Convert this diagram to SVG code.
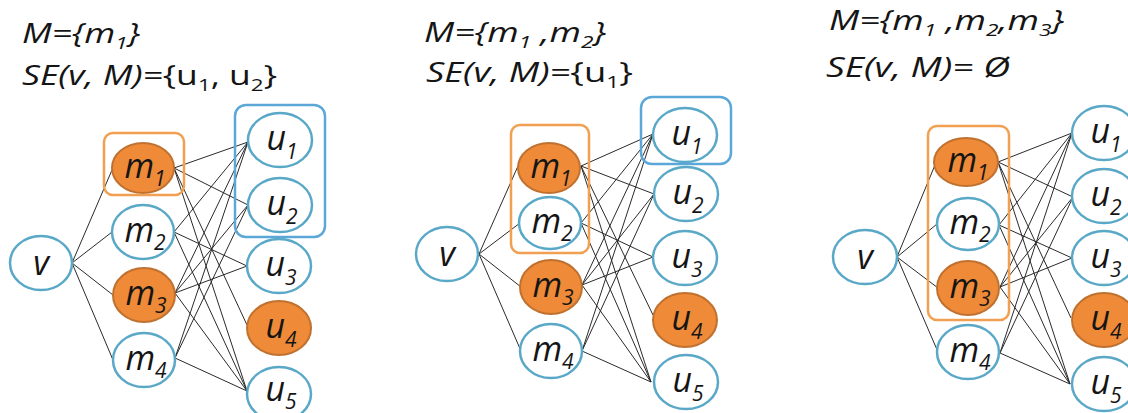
<svg xmlns="http://www.w3.org/2000/svg" width="1128" height="413" viewBox="0 0 1128 413">
<style>
.bg{fill:#ffffff}
.n{fill:#ffffff;stroke:#5aa8c8;stroke-width:2.5}
.o{fill:#ee8a38;stroke:#c0712f;stroke-width:2}
.ob{fill:none;stroke:#f0a050;stroke-width:2.5}
.bb{fill:none;stroke:#5ba7d8;stroke-width:2.5}
.e{stroke:#2a2a2a;stroke-width:1;fill:none}
.h{font-family:"Open Sans","Liberation Sans",sans-serif;font-size:27px;fill:#151515;font-style:italic}
.up{font-style:normal}
.l{font-family:"Open Sans","Liberation Sans",sans-serif;font-size:34px;font-style:italic;fill:#151515;text-anchor:middle}
.s{font-size:21px}
</style>
<rect class="bg" x="0" y="0" width="1128" height="413"/>

<!-- headers -->
<g id="header1">
<text class="h" x="22" y="43" textLength="118" lengthAdjust="spacingAndGlyphs">M={m<tspan font-size="17" dy="6">1</tspan><tspan dy="-6">}</tspan></text>
<text class="h" x="22" y="85" textLength="255" lengthAdjust="spacingAndGlyphs">SE(v, M)=<tspan class="up">{u<tspan font-size="17" dy="6">1</tspan><tspan dy="-6">, u</tspan><tspan font-size="17" dy="6">2</tspan><tspan dy="-6">}</tspan></tspan></text>
</g>
<g id="header2">
<text class="h" x="424" y="42" textLength="182" lengthAdjust="spacingAndGlyphs">M={m<tspan font-size="17" dy="6">1</tspan><tspan dy="-6"> ,m</tspan><tspan font-size="17" dy="6">2</tspan><tspan dy="-6">}</tspan></text>
<text class="h" x="426" y="82" textLength="207" lengthAdjust="spacingAndGlyphs">SE(v, M)=<tspan class="up">{u<tspan font-size="17" dy="6">1</tspan><tspan dy="-6">}</tspan></tspan></text>
</g>
<g id="header3">
<text class="h" x="829" y="30" textLength="235" lengthAdjust="spacingAndGlyphs">M={m<tspan font-size="17" dy="6">1</tspan><tspan dy="-6"> ,m</tspan><tspan font-size="17" dy="6">2</tspan><tspan dy="-6">,m</tspan><tspan font-size="17" dy="6">3</tspan><tspan dy="-6">}</tspan></text>
<text class="h" x="826" y="77" textLength="184" lengthAdjust="spacingAndGlyphs">SE(v, M)= Ø</text>
</g>

<!-- connectors -->
<g id="connectors">
<!-- panel 1 -->
<path class="e" d="M72,263L112,170M72,263L112,232M72,263L113,295M72,263L113,360"/>
<path class="e" d="M174,168L248,142M174,168L248,205M174,168L247,325M174,168L247,391"/>
<path class="e" d="M174,232L248,142M174,232L247,266M174,232L247,391"/>
<path class="e" d="M175,293L248,142M175,293L248,205M175,293L247,266M175,293L247,391"/>
<path class="e" d="M175,358L248,142M175,358L248,205M175,358L247,391"/>
<!-- panel 2 -->
<path class="e" d="M479,254L518,166M479,254L520,223M479,254L521,287M479,254L521,351"/>
<path class="e" d="M581,166L653,134M581,166L654,194M581,166L653,315M581,166L651,382"/>
<path class="e" d="M581,223L653,134M581,223L653,257M581,223L651,382"/>
<path class="e" d="M582,285L653,134M582,285L654,194M582,285L653,257M582,285L651,382"/>
<path class="e" d="M582,351L653,134M582,351L654,194M582,351L651,382"/>
<!-- panel 3 -->
<path class="e" d="M897,257L935,165M897,257L937,224M897,257L938,288M897,257L938,352"/>
<path class="e" d="M998,162L1072,133M998,162L1073,197M998,162L1071,318M998,162L1070,384"/>
<path class="e" d="M999,225L1072,133M999,225L1072,258M999,225L1070,384"/>
<path class="e" d="M1000,287L1072,133M1000,287L1073,197M1000,287L1072,258M1000,287L1070,384"/>
<path class="e" d="M1000,353L1072,133M1000,353L1073,197M1000,353L1070,384"/>
</g>

<!-- panel 1 nodes -->
<g id="p1-v"><ellipse class="n" cx="41" cy="263" rx="31" ry="27"/><text class="l" x="41" y="275">v</text></g>
<g id="p1-m1"><ellipse class="o" cx="143" cy="168" rx="31" ry="25"/><text class="l" x="145" y="178">m<tspan class="s" dy="8">1</tspan></text></g>
<g id="p1-m2"><ellipse class="n" cx="143" cy="232" rx="31" ry="27"/><text class="l" x="145" y="242">m<tspan class="s" dy="8">2</tspan></text></g>
<g id="p1-m3"><ellipse class="o" cx="144" cy="295" rx="31" ry="27"/><text class="l" x="146" y="305">m<tspan class="s" dy="8">3</tspan></text></g>
<g id="p1-m4"><ellipse class="n" cx="144" cy="360" rx="31" ry="27"/><text class="l" x="146" y="370">m<tspan class="s" dy="8">4</tspan></text></g>
<g id="p1-u1"><ellipse class="n" cx="280" cy="140" rx="32" ry="27"/><text class="l" x="282" y="150">u<tspan class="s" dy="9">1</tspan></text></g>
<g id="p1-u2"><ellipse class="n" cx="280" cy="205" rx="32" ry="27"/><text class="l" x="282" y="215">u<tspan class="s" dy="9">2</tspan></text></g>
<g id="p1-u3"><ellipse class="n" cx="279" cy="266" rx="32" ry="27"/><text class="l" x="281" y="276">u<tspan class="s" dy="9">3</tspan></text></g>
<g id="p1-u4"><ellipse class="o" cx="279" cy="328" rx="32" ry="27"/><text class="l" x="281" y="338">u<tspan class="s" dy="9">4</tspan></text></g>
<g id="p1-u5"><ellipse class="n" cx="279" cy="394" rx="32" ry="27"/><text class="l" x="281" y="401">u<tspan class="s" dy="8">5</tspan></text></g>
<g id="p1-boxes"><rect class="ob" x="104" y="133" width="80" height="62" rx="9"/><rect class="bb" x="235" y="105" width="90" height="132" rx="11"/></g>

<!-- panel 2 nodes -->
<g id="p2-v"><ellipse class="n" cx="447" cy="254" rx="31" ry="27"/><text class="l" x="447" y="266">v</text></g>
<g id="p2-m1"><ellipse class="o" cx="549" cy="168" rx="31" ry="25"/><text class="l" x="551" y="178">m<tspan class="s" dy="8">1</tspan></text></g>
<g id="p2-m2"><ellipse class="n" cx="550" cy="223" rx="31" ry="26"/><text class="l" x="552" y="233">m<tspan class="s" dy="8">2</tspan></text></g>
<g id="p2-m3"><ellipse class="o" cx="551" cy="287" rx="31" ry="27"/><text class="l" x="553" y="297">m<tspan class="s" dy="8">3</tspan></text></g>
<g id="p2-m4"><ellipse class="n" cx="551" cy="351" rx="31" ry="27"/><text class="l" x="553" y="361">m<tspan class="s" dy="8">4</tspan></text></g>
<g id="p2-u1"><ellipse class="n" cx="685" cy="135" rx="32" ry="27"/><text class="l" x="687" y="145">u<tspan class="s" dy="9">1</tspan></text></g>
<g id="p2-u2"><ellipse class="n" cx="686" cy="194" rx="32" ry="27"/><text class="l" x="688" y="204">u<tspan class="s" dy="9">2</tspan></text></g>
<g id="p2-u3"><ellipse class="n" cx="685" cy="258" rx="32" ry="27"/><text class="l" x="687" y="268">u<tspan class="s" dy="9">3</tspan></text></g>
<g id="p2-u4"><ellipse class="o" cx="685" cy="320" rx="32" ry="27"/><text class="l" x="687" y="330">u<tspan class="s" dy="9">4</tspan></text></g>
<g id="p2-u5"><ellipse class="n" cx="686" cy="382" rx="32" ry="27"/><text class="l" x="688" y="392">u<tspan class="s" dy="9">5</tspan></text></g>
<g id="p2-boxes"><rect class="ob" x="511" y="125" width="78" height="128" rx="9"/><rect class="bb" x="641" y="97" width="90" height="67" rx="11"/></g>

<!-- panel 3 nodes -->
<g id="p3-v"><ellipse class="n" cx="865" cy="257" rx="32" ry="27"/><text class="l" x="865" y="269">v</text></g>
<g id="p3-m1"><ellipse class="o" cx="966" cy="162" rx="32" ry="24"/><text class="l" x="968" y="172">m<tspan class="s" dy="8">1</tspan></text></g>
<g id="p3-m2"><ellipse class="n" cx="968" cy="224" rx="31" ry="26"/><text class="l" x="970" y="234">m<tspan class="s" dy="8">2</tspan></text></g>
<g id="p3-m3"><ellipse class="o" cx="968" cy="288" rx="31" ry="27"/><text class="l" x="970" y="298">m<tspan class="s" dy="8">3</tspan></text></g>
<g id="p3-m4"><ellipse class="n" cx="968" cy="352" rx="31" ry="27"/><text class="l" x="970" y="362">m<tspan class="s" dy="8">4</tspan></text></g>
<g id="p3-u1"><ellipse class="n" cx="1104" cy="133" rx="32" ry="27"/><text class="l" x="1106" y="143">u<tspan class="s" dy="9">1</tspan></text></g>
<g id="p3-u2"><ellipse class="n" cx="1104" cy="196" rx="32" ry="27"/><text class="l" x="1106" y="206">u<tspan class="s" dy="9">2</tspan></text></g>
<g id="p3-u3"><ellipse class="n" cx="1104" cy="258" rx="32" ry="27"/><text class="l" x="1106" y="268">u<tspan class="s" dy="9">3</tspan></text></g>
<g id="p3-u4"><ellipse class="o" cx="1104" cy="320" rx="32" ry="27"/><text class="l" x="1106" y="330">u<tspan class="s" dy="9">4</tspan></text></g>
<g id="p3-u5"><ellipse class="n" cx="1104" cy="384" rx="32" ry="27"/><text class="l" x="1106" y="394">u<tspan class="s" dy="9">5</tspan></text></g>
<g id="p3-boxes"><rect class="ob" x="928" y="126" width="81" height="194" rx="9"/></g>
</svg>
